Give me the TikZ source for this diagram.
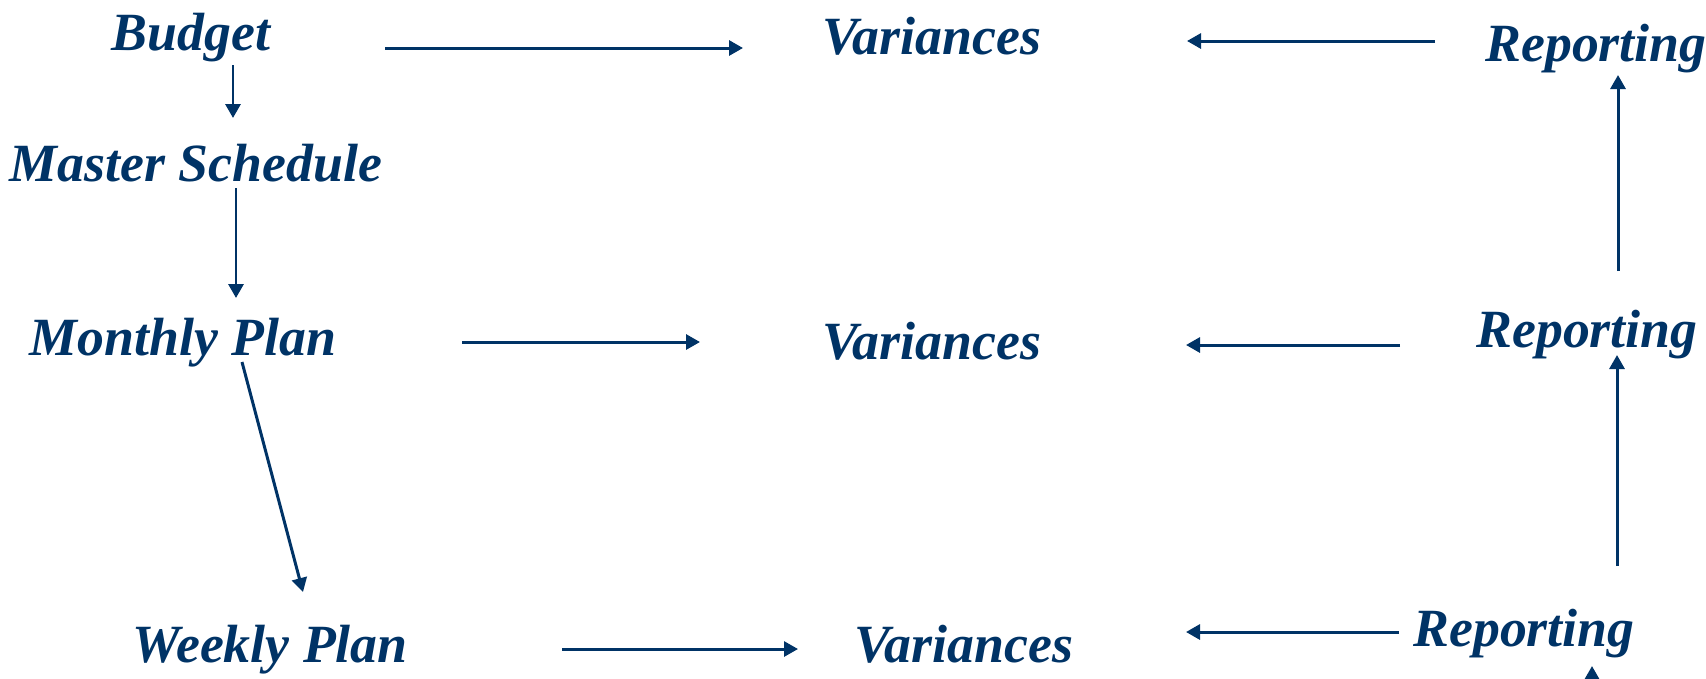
\documentclass[tikz,border=0pt]{standalone}
\usepackage{fontspec}
\setmainfont{Liberation Serif}
\usetikzlibrary{arrows.meta}
\definecolor{navy}{RGB}{0,51,102}

\begin{document}
\begin{tikzpicture}[x=0.01cm,y=-0.01cm,
  lbl/.style={inner sep=0pt,anchor=base,text=navy,
    font=\fontsize{15.3}{18}\selectfont\bfseries\itshape},
  flow/.style={draw=navy,line width=0.85pt,
    -{Triangle[length=1.4mm,width=1.5mm]}}]
\useasboundingbox (0,0) rectangle (1706,678);
\clip (0,0) rectangle (1706,678);
% plans on the left
\node[lbl] (budget) at (191,50) {Budget};
\node[lbl] (master) at (196,181) {Master Schedule};
\node[lbl] (monthly) at (183,355) {Monthly Plan};
\node[lbl] (weekly) at (270,662) {Weekly Plan};
% variances in the middle
\node[lbl] (var1) at (932,54) {Variances};
\node[lbl] (var2) at (932,359) {Variances};
\node[lbl] (var3) at (964,662) {Variances};
% reporting on the right
\node[lbl] (rep1) at (1596,61) {Reporting};
\node[lbl] (rep2) at (1587,347) {Reporting};
\node[lbl] (rep3) at (1524,646) {Reporting};
\coordinate (below) at (1592,720);
% planning chain
\draw[flow] ([shift={(42,15)}]budget.base) -- ([shift={(37,-63)}]master.base);
\draw[flow] ([shift={(40,7)}]master.base) -- ([shift={(53,-57)}]monthly.base);
\draw[flow] ([shift={(59,7)}]monthly.base) -- ([shift={(33,-70)}]weekly.base);
% plans to variances
\draw[flow] ([shift={(194,-2)}]budget.base) -- ([shift={(-189,-6)}]var1.base);
\draw[flow] ([shift={(279,-13)}]monthly.base) -- ([shift={(-232,-17)}]var2.base);
\draw[flow] ([shift={(292,-13)}]weekly.base) -- ([shift={(-166,-13)}]var3.base);
% reporting to variances
\draw[flow] ([shift={(-161,-20)}]rep1.base) -- ([shift={(255,-13)}]var1.base);
\draw[flow] ([shift={(-187,-2)}]rep2.base) -- ([shift={(254,-14)}]var2.base);
\draw[flow] ([shift={(-125,-14)}]rep3.base) -- ([shift={(222,-30)}]var3.base);
% reporting upwards
\draw[flow] ([shift={(31,-76)}]rep2.base) -- ([shift={(22,14)}]rep1.base);
\draw[flow] ([shift={(93,-80)}]rep3.base) -- ([shift={(30,8)}]rep2.base);
\draw[flow] (below) -- ([shift={(68,20)}]rep3.base);
\end{tikzpicture}
\end{document}
